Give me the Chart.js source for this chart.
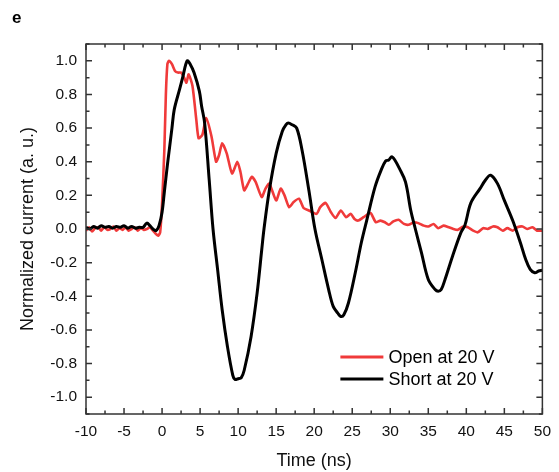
<!DOCTYPE html>
<html>
<head>
<meta charset="utf-8">
<script src="https://cdn.jsdelivr.net/npm/chart.js@4/dist/chart.umd.min.js"></script>
<style>
  html, body { margin: 0; padding: 0; background: #fff; }
  #wrap { position: relative; width: 559px; height: 472px; }
  #panel { position: absolute; left: 12px; top: 8px; font: bold 17px "Liberation Sans", Arial, sans-serif; color: #000; }
</style>
</head>
<body>
<div id="wrap">
  <canvas id="c" width="559" height="472"></canvas>
  <div id="panel">e</div>
</div>
<script>
// ---- data ----
const seriesLabels = ["Open at 20 V", "Short at 20 V"];

const openTime = [-10,-9.6,-9.2,-8.8,-8.4,-8,-7.6,-7.2,-6.8,-6.4,-6,-5.6,-5.2,-4.8,-4.4,-4,-3.6,-3.2,-2.8,-2.4,-2,-1.6,-1.2,-0.8,-0.5,-0.25,0,0.3,0.5,0.7,0.9,1.3,1.7,2.1,2.5,2.9,3.2,3.5,4.0,4.5,4.8,5.3,5.8,6.5,7.1,7.5,7.9,8.5,9.2,9.9,10.3,10.8,11.3,11.8,12.3,13.1,13.6,14.1,15.0,15.6,16.1,16.7,17.3,18.0,18.6,19.3,20.3,20.8,21.5,22.2,22.8,23.5,24.2,24.8,25.3,25.8,26.5,27.4,28.1,28.7,29.3,29.8,30.4,31.1,31.8,32.4,33.1,33.7,34.4,35.0,35.7,36.3,37.0,37.6,38.3,38.9,39.6,40.2,40.9,41.5,42.2,42.8,43.5,44.1,44.8,45.4,46.1,46.7,47.4,48.0,48.7,49.3,50];
const openValues = [-0.01,0.01,-0.015,0.005,0.01,-0.01,0.012,-0.005,0.0,0.015,-0.01,0.005,-0.005,0.01,-0.01,0.0,0.01,-0.01,0.005,-0.005,0.0,0.01,-0.01,-0.03,-0.04,-0.02,0.15,0.47,0.8,0.98,1.0,0.98,0.94,0.93,0.93,0.9,0.87,0.92,0.85,0.65,0.54,0.56,0.66,0.55,0.40,0.44,0.51,0.45,0.33,0.40,0.34,0.23,0.27,0.31,0.28,0.19,0.24,0.27,0.17,0.24,0.2,0.13,0.16,0.18,0.125,0.11,0.09,0.13,0.155,0.1,0.065,0.11,0.07,0.09,0.06,0.05,0.07,0.095,0.04,0.05,0.04,0.025,0.045,0.055,0.03,0.025,0.04,0.035,0.02,0.015,0.03,0.005,0.02,0.012,0.0,-0.005,0.015,0.01,-0.01,-0.02,0.005,0.0,0.015,0.01,-0.01,0.005,-0.01,0.01,0.015,0.0,0.01,-0.01,-0.01];

const shortTime = [-10,-9.5,-9,-8.5,-8,-7.5,-7,-6.5,-6,-5.5,-5,-4.5,-4,-3.5,-3,-2.5,-2,-1.6,-1.2,-0.8,-0.4,0,0.3,0.7,1.0,1.3,1.6,2.3,2.7,3.3,3.7,4.2,4.9,5.2,5.6,6.2,6.7,7.3,7.9,8.6,9.3,9.6,10.0,10.4,10.8,11.7,12.5,13.1,13.4,14.1,15.0,15.8,16.3,16.6,17.1,17.7,18.4,19.3,20.1,21.0,21.9,22.5,23.1,23.5,23.9,24.5,25.4,26.2,26.9,28.0,28.8,29.4,29.8,30.2,30.6,31.2,32.0,32.7,33.3,34.1,35.0,35.9,36.3,36.7,37.2,38.2,39.3,39.8,40.6,41.8,42.5,43.2,44.1,45.0,46.1,47.1,47.8,48.4,49.0,49.5,50];
const shortValues = [0.01,0.0,0.015,0.005,0.02,0.01,0.015,0.005,0.015,0.01,0.02,0.005,0.015,0.005,0.01,0.01,0.035,0.02,0.0,-0.01,0.02,0.1,0.22,0.38,0.49,0.6,0.71,0.83,0.9,1.0,0.98,0.93,0.82,0.73,0.63,0.29,0.0,-0.24,-0.48,-0.70,-0.87,-0.895,-0.89,-0.885,-0.84,-0.64,-0.38,-0.125,0.0,0.23,0.45,0.58,0.62,0.63,0.62,0.60,0.47,0.23,0.0,-0.18,-0.36,-0.46,-0.5,-0.52,-0.51,-0.44,-0.26,-0.08,0.05,0.25,0.35,0.405,0.41,0.43,0.41,0.36,0.28,0.11,0.0,-0.14,-0.30,-0.36,-0.37,-0.36,-0.30,-0.16,-0.02,0.02,0.155,0.24,0.29,0.32,0.27,0.17,0.05,-0.08,-0.18,-0.24,-0.26,-0.25,-0.245];

const xTicks = [-10,-5,0,5,10,15,20,25,30,35,40,45,50];
const yTicks = [-1.0,-0.8,-0.6,-0.4,-0.2,0.0,0.2,0.4,0.6,0.8,1.0];
const xMinorTicks = [-7.5,-2.5,2.5,7.5,12.5,17.5,22.5,27.5,32.5,37.5,42.5,47.5];
const yMinorTicks = [-1.1,-0.9,-0.7,-0.5,-0.3,-0.1,0.1,0.3,0.5,0.7,0.9,1.1];

// ---- chart ----
const FONT = '"Liberation Sans", Arial, sans-serif';
const toPts = (xs, ys) => xs.map((x, i) => ({ x: x, y: ys[i] }));

const frameTicks = {
  id: 'frameTicks',
  afterDraw(chart) {
    const { ctx, chartArea: a, scales } = chart;
    const xs = scales.x, ys = scales.y;
    ctx.save();
    ctx.strokeStyle = '#333';
    ctx.lineWidth = 1.5;
    ctx.strokeRect(a.left, a.top, a.right - a.left, a.bottom - a.top);
    ctx.beginPath();
    const major = 6, minor = 3.5;
    xTicks.forEach(v => { const p = xs.getPixelForValue(v);
      ctx.moveTo(p, a.bottom); ctx.lineTo(p, a.bottom - major);
      ctx.moveTo(p, a.top); ctx.lineTo(p, a.top + major); });
    xMinorTicks.forEach(v => { const p = xs.getPixelForValue(v);
      ctx.moveTo(p, a.bottom); ctx.lineTo(p, a.bottom - minor);
      ctx.moveTo(p, a.top); ctx.lineTo(p, a.top + minor); });
    yTicks.forEach(v => { const p = ys.getPixelForValue(v);
      ctx.moveTo(a.left, p); ctx.lineTo(a.left + major, p);
      ctx.moveTo(a.right, p); ctx.lineTo(a.right - major, p); });
    yMinorTicks.forEach(v => { const p = ys.getPixelForValue(v);
      ctx.moveTo(a.left, p); ctx.lineTo(a.left + minor, p);
      ctx.moveTo(a.right, p); ctx.lineTo(a.right - minor, p); });
    ctx.stroke();

    // legend inside plot
    const lx = a.right - 202, ly = a.bottom - 57;
    chart.data.datasets.forEach((ds, i) => {
      const y = ly + i * 22;
      ctx.beginPath();
      ctx.strokeStyle = ds.borderColor;
      ctx.lineWidth = 3;
      ctx.moveTo(lx, y); ctx.lineTo(lx + 43, y);
      ctx.stroke();
      ctx.fillStyle = '#000';
      ctx.font = '18px ' + FONT;
      ctx.textBaseline = 'middle';
      ctx.textAlign = 'left';
      ctx.fillText(ds.label, lx + 48, y + 1);
    });
    ctx.restore();
  }
};

new Chart(document.getElementById('c'), {
  type: 'line',
  data: {
    datasets: [
      { label: seriesLabels[0], data: toPts(openTime, openValues), borderColor: '#f03a3a', borderWidth: 2.6, pointRadius: 0, tension: 0.2, order: 1 },
      { label: seriesLabels[1], data: toPts(shortTime, shortValues), borderColor: '#000000', borderWidth: 3, pointRadius: 0, tension: 0.35, order: 0 }
    ]
  },
  options: {
    responsive: false,
    animation: false,
    layout: { padding: { left: 0, top: 44, right: 14, bottom: 0 } },
    plugins: { legend: { display: false }, tooltip: { enabled: false } },
    scales: {
      x: {
        type: 'linear', min: -10, max: 50,
        afterBuildTicks: s => { s.ticks = xTicks.map(v => ({ value: v })); },
        afterFit: s => { s.height = 58; },
        grid: { display: false, tickLength: 0 }, border: { display: false },
        ticks: { font: { family: FONT, size: 15.5 }, color: '#111', padding: 8, maxRotation: 0, callback: v => String(v) },
        title: { display: true, text: 'Time (ns)', font: { family: FONT, size: 18 }, color: '#111', padding: { top: 0, bottom: 0 } }
      },
      y: {
        type: 'linear', min: -1.1, max: 1.1,
        afterBuildTicks: s => { s.ticks = yTicks.map(v => ({ value: v })); },
        afterFit: s => { s.width = 86; },
        grid: { display: false, tickLength: 0 }, border: { display: false },
        ticks: { font: { family: FONT, size: 15.5 }, color: '#111', padding: 9, callback: v => Number(v).toFixed(1) },
        title: { display: true, text: 'Normalized current (a. u.)', font: { family: FONT, size: 18 }, color: '#111', padding: { top: 17, bottom: 0 } }
      }
    }
  },
  plugins: [frameTicks]
});
</script>
</body>
</html>
